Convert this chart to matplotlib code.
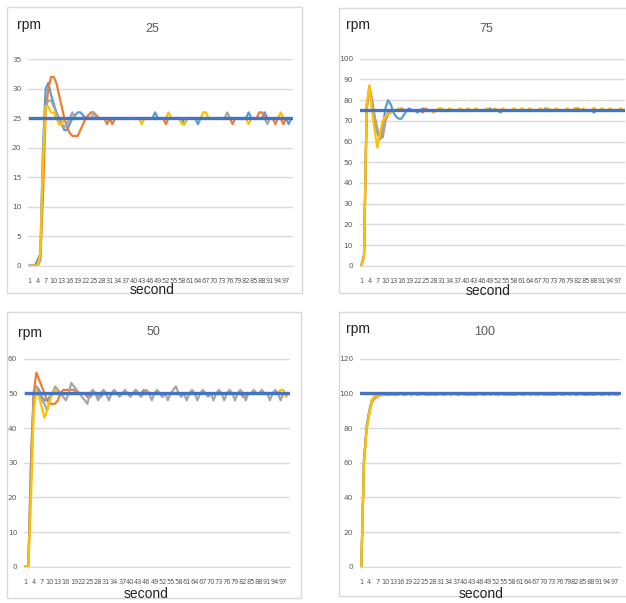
import matplotlib.pyplot as plt
from matplotlib.patches import Rectangle

# categories (seconds)
seconds = list(range(1, 100))
tick_seconds = seconds[::3]

# ---- set point 25 ----
p25_blue = [0, 0, 0, 1, 2, 20, 30, 31, 29, 27.5,
            26, 25, 24, 23, 23, 24, 25, 25.5, 26, 26,
            25.5, 25, 25, 25, 25, 25, 25, 25, 25, 25,
            25, 25, 25, 25, 25, 25, 25, 25, 25, 25,
            25, 25, 25, 25, 25, 25, 25, 26, 25, 25,
            25, 25, 25, 25, 25, 25, 25, 25, 24, 25,
            25, 25, 25, 24, 25, 25, 25, 25, 25, 25,
            25, 25, 25, 25, 25, 25, 25, 25, 25, 25,
            25, 25, 26, 25, 25, 25, 25, 25, 26, 25,
            25, 25, 25, 25, 25, 25, 25, 24, 25]
p25_orange = [0, 0, 0, 0, 1, 12, 26, 30, 32, 32,
              31, 29, 27, 25, 23.5, 22.5, 22, 22, 22, 23,
              24, 25, 25.5, 26, 26, 25.5, 25, 25, 25, 24,
              25, 24, 25, 25, 25, 25, 25, 25, 25, 25,
              25, 25, 25, 25, 25, 25, 25, 25, 25, 25,
              25, 24, 25, 25, 25, 25, 25, 25, 25, 25,
              25, 25, 25, 25, 25, 25, 25, 25, 25, 25,
              25, 25, 25, 25, 25, 25, 24, 25, 25, 25,
              25, 25, 25, 25, 25, 25, 26, 26, 25, 25,
              25, 25, 24, 25, 25, 24, 25, 25, 25]
p25_gray = [0, 0, 0, 0, 1, 18, 27, 28, 28, 27,
            26, 25, 24, 23.5, 24, 25, 26, 25, 25, 25,
            25, 25, 25, 25, 26, 25, 25, 25, 25, 25,
            25, 25, 25, 25, 25, 25, 25, 25, 25, 25,
            25, 25, 25, 25, 25, 25, 25, 25, 25, 25,
            25, 25, 25, 25, 25, 25, 25, 25, 25, 25,
            25, 25, 25, 25, 25, 25, 25, 25, 25, 25,
            25, 25, 25, 25, 26, 25, 25, 25, 25, 25,
            25, 25, 25, 25, 25, 25, 25, 25, 25, 24,
            25, 25, 25, 25, 25, 25, 25, 25, 25]
p25_yellow = [0, 0, 0, 0, 2, 18, 27, 27, 26, 26,
              25, 24, 24, 25, 25, 25, 25, 25, 25, 25,
              25, 25, 25, 25, 25, 25, 25, 25, 25, 25,
              25, 25, 25, 25, 25, 25, 25, 25, 25, 25,
              25, 25, 24, 25, 25, 25, 25, 25, 25, 25,
              25, 25, 26, 25, 25, 25, 25, 24, 24, 25,
              25, 25, 25, 25, 25, 26, 26, 25, 25, 25,
              25, 25, 25, 25, 25, 25, 25, 25, 25, 25,
              25, 25, 24, 25, 25, 25, 25, 25, 25, 25,
              25, 25, 25, 25, 26, 25, 25, 25, 25]

# ---- set point 75 ----
p75_blue = [0, 5, 78, 85, 77, 70, 64, 61, 66, 76,
            80, 78, 74, 72, 71, 71, 73, 75, 76, 75,
            75, 74, 75, 76, 75, 75, 75, 75, 75, 75,
            75, 75, 75, 75, 75, 75, 75, 75, 75, 75,
            75, 75, 75, 75, 75, 75, 75, 75, 76, 75,
            75, 75, 74, 75, 75, 75, 75, 75, 75, 75,
            75, 75, 75, 75, 75, 75, 75, 75, 75, 76,
            75, 75, 75, 75, 75, 75, 75, 75, 75, 75,
            75, 75, 75, 75, 75, 75, 75, 74, 75, 75,
            75, 75, 75, 75, 75, 75, 75, 75, 75]
p75_orange = [0, 5, 75, 87, 80, 72, 66, 62, 62, 70,
              73, 74, 75, 75, 75, 76, 75, 75, 75, 75,
              75, 75, 75, 74, 76, 75, 75, 75, 75, 75,
              75, 75, 75, 75, 75, 75, 75, 75, 75, 75,
              75, 75, 75, 75, 75, 75, 75, 75, 75, 75,
              75, 75, 75, 75, 75, 75, 75, 75, 75, 75,
              75, 75, 75, 75, 75, 75, 75, 75, 75, 75,
              75, 75, 75, 75, 75, 75, 75, 75, 75, 75,
              76, 76, 75, 75, 75, 75, 75, 76, 75, 75,
              75, 75, 75, 75, 75, 75, 75, 75, 75]
p75_gray = [0, 5, 76, 86, 79, 71, 65, 62, 63, 71,
            74, 75, 75, 75, 75, 75, 75, 75, 75, 75,
            75, 75, 75, 75, 75, 75, 75, 75, 75, 75,
            75, 75, 75, 75, 75, 75, 75, 75, 75, 75,
            75, 75, 75, 75, 75, 75, 75, 75, 75, 75,
            75, 75, 75, 75, 75, 75, 75, 75, 75, 75,
            75, 75, 75, 75, 75, 75, 75, 75, 75, 75,
            75, 75, 75, 75, 75, 75, 75, 75, 75, 75,
            75, 75, 75, 75, 75, 75, 75, 75, 75, 75,
            75, 75, 75, 75, 75, 75, 75, 75, 75]
p75_yellow = [0, 4, 78, 87, 75, 65, 57, 64, 70, 72,
              73, 74, 75, 75, 76, 75, 75, 75, 75, 75,
              75, 75, 75, 75, 75, 75, 75, 74, 75, 76,
              76, 75, 75, 76, 75, 75, 75, 76, 75, 75,
              76, 75, 75, 76, 75, 75, 75, 76, 75, 75,
              76, 75, 75, 76, 75, 75, 75, 76, 75, 75,
              76, 75, 75, 76, 75, 75, 75, 76, 75, 75,
              76, 75, 75, 76, 75, 75, 75, 76, 75, 75,
              76, 75, 75, 76, 75, 75, 75, 76, 75, 75,
              76, 75, 75, 76, 75, 75, 75, 76, 75]

# ---- set point 50 ----
p50_blue = [0, 0, 30, 50, 52, 51, 49, 48, 48, 49,
            50, 50, 50, 50, 50, 50, 50, 50, 50, 50,
            50, 50, 50, 50, 49, 50, 50, 49, 49, 50,
            50, 50, 50, 50, 50, 50, 50, 50, 50, 50,
            50, 51, 50, 50, 50, 50, 50, 50, 50, 50,
            50, 50, 50, 50, 50, 50, 50, 50, 50, 50,
            50, 50, 50, 50, 50, 50, 50, 50, 50, 50,
            50, 50, 50, 50, 50, 50, 50, 50, 50, 50,
            50, 50, 50, 50, 50, 50, 50, 50, 50, 50,
            50, 50, 50, 50, 50, 50, 50, 50, 50]
p50_orange = [0, 0, 30, 50, 56, 54, 52, 50, 48, 47,
              47, 47, 48, 50, 51, 51, 51, 51, 51, 50,
              50, 50, 50, 49, 49, 50, 50, 50, 50, 50,
              50, 50, 50, 50, 50, 50, 50, 50, 50, 50,
              50, 50, 50, 50, 51, 50, 50, 50, 50, 50,
              50, 49, 50, 50, 50, 50, 50, 50, 50, 50,
              50, 50, 50, 50, 50, 50, 50, 50, 50, 50,
              50, 50, 50, 50, 50, 50, 50, 50, 50, 50,
              50, 49, 49, 50, 50, 50, 50, 50, 50, 50,
              50, 50, 50, 50, 50, 50, 50, 50, 50]
p50_gray = [0, 0, 25, 48, 52, 50, 48, 47, 45, 48,
            50, 52, 51, 50, 49, 48, 50, 53, 52, 51,
            50, 49, 48, 47, 50, 51, 50, 48, 50, 51,
            50, 48, 50, 51, 50, 49, 50, 51, 50, 49,
            50, 51, 50, 49, 50, 51, 50, 48, 50, 51,
            50, 49, 50, 48, 50, 51, 52, 50, 49, 50,
            48, 50, 51, 50, 48, 50, 51, 50, 49, 50,
            48, 50, 51, 50, 48, 50, 51, 50, 48, 50,
            51, 50, 48, 50, 50, 51, 50, 50, 51, 50,
            50, 48, 50, 51, 50, 48, 50, 50, 50]
p50_yellow = [0, 0, 20, 45, 51, 49, 46, 43, 45, 48,
              50, 51, 50, 50, 50, 50, 50, 50, 50, 50,
              50, 50, 50, 50, 50, 50, 50, 50, 50, 50,
              50, 50, 50, 50, 50, 50, 50, 50, 50, 50,
              50, 50, 50, 50, 50, 50, 50, 50, 50, 50,
              50, 50, 50, 50, 50, 50, 50, 50, 50, 50,
              50, 50, 50, 50, 50, 50, 50, 50, 50, 50,
              50, 50, 50, 50, 50, 50, 50, 50, 50, 50,
              50, 50, 50, 50, 50, 50, 50, 50, 50, 50,
              50, 50, 50, 50, 50, 51, 51, 49, 50]

# ---- set point 100 ----
p100_blue = [0, 62, 81, 90, 96, 98, 99, 99, 100, 100,
             100, 100, 100, 100, 100, 100, 100, 100, 100, 100,
             100, 100, 100, 100, 100, 100, 100, 100, 100, 100,
             100, 100, 100, 100, 100, 100, 100, 100, 100, 100,
             100, 100, 100, 100, 100, 100, 100, 100, 100, 100,
             100, 100, 100, 100, 100, 100, 100, 100, 100, 100,
             100, 100, 100, 100, 100, 100, 100, 100, 100, 100,
             100, 100, 100, 100, 100, 100, 100, 100, 100, 100,
             100, 100, 100, 100, 100, 100, 100, 100, 100, 100,
             100, 100, 100, 100, 100, 100, 100, 100, 100]
p100_orange = [0, 60, 80, 88, 95, 97, 98, 99, 99, 100,
               99, 100, 100, 99, 100, 100, 99, 100, 100, 99,
               100, 100, 99, 100, 100, 99, 100, 100, 99, 100,
               100, 99, 100, 100, 99, 100, 100, 99, 100, 100,
               99, 100, 100, 99, 100, 100, 99, 100, 100, 99,
               100, 100, 99, 100, 100, 99, 100, 100, 99, 100,
               100, 99, 100, 100, 99, 100, 100, 99, 100, 100,
               99, 100, 100, 99, 100, 100, 99, 100, 100, 99,
               100, 100, 99, 100, 100, 99, 100, 100, 99, 100,
               100, 99, 100, 100, 99, 100, 100, 99, 100]
p100_gray = [0, 61, 80, 89, 96, 98, 99, 99, 99, 100,
             100, 100, 100, 100, 100, 100, 100, 100, 100, 100,
             100, 100, 100, 100, 100, 100, 100, 100, 100, 100,
             100, 100, 100, 100, 100, 100, 100, 100, 100, 100,
             100, 100, 100, 100, 100, 100, 100, 100, 100, 100,
             100, 100, 100, 100, 100, 100, 100, 100, 100, 100,
             100, 100, 100, 100, 100, 100, 100, 100, 100, 100,
             100, 100, 100, 100, 100, 100, 100, 100, 100, 100,
             100, 100, 100, 100, 100, 100, 100, 100, 100, 100,
             100, 100, 100, 100, 100, 100, 100, 100, 100]
p100_yellow = [0, 58, 79, 88, 96, 98, 98.5, 99, 99, 99,
               100, 99, 99, 100, 99, 100, 99, 99, 100, 99,
               100, 99, 99, 100, 99, 100, 99, 99, 100, 99,
               100, 99, 99, 100, 99, 100, 99, 99, 100, 99,
               100, 99, 99, 100, 99, 100, 99, 99, 100, 99,
               100, 99, 99, 100, 99, 100, 99, 99, 100, 99,
               100, 99, 99, 100, 99, 100, 99, 99, 100, 99,
               100, 99, 99, 100, 99, 100, 99, 99, 100, 99,
               100, 99, 99, 100, 99, 100, 99, 99, 100, 99,
               100, 99, 99, 100, 99, 100, 99, 99, 100]

titles = ['25', '75', '50', '100']
setpoints = [25, 75, 50, 100]
y_max = [35, 100, 60, 120]
y_step = [5, 10, 10, 20]
responses = [
    [p25_blue, p25_orange, p25_gray, p25_yellow],
    [p75_blue, p75_orange, p75_gray, p75_yellow],
    [p50_blue, p50_orange, p50_gray, p50_yellow],
    [p100_blue, p100_orange, p100_gray, p100_yellow],
]
colors = ['#5B9BD5', '#ED7D31', '#A5A5A5', '#FFC000']
sp_color = '#4472C4'

W, H = 626, 603

# pixel boxes measured on the reference: plot area, chart frame, label spots
plot_px = [(28.3, 59.3, 292.7, 265.7), (360, 58.7, 624.7, 265.7),
           (24.3, 358.7, 290, 566.7), (360, 358.7, 621.3, 566.7)]
frame_px = [(7.3, 7.3, 301.7, 293.3), (338.7, 8.3, 630, 293),
            (6.7, 311.7, 301, 597.7), (338.7, 311.7, 630, 596)]
rpm_px = [(17, 25), (346, 25), (18, 333), (346, 329)]
title_px = [(152, 29), (486, 29), (153, 332), (485, 332)]
second_px = [(152, 290), (488, 291), (146, 594), (481, 594)]

narrow = ['Liberation Sans Narrow', 'DejaVu Sans']
plain = ['Liberation Sans', 'DejaVu Sans']

fig = plt.figure(figsize=(W / 100, H / 100), dpi=100)
fig.patch.set_facecolor('white')

for k in range(4):
    x0, y0, x1, y1 = frame_px[k]
    fig.patches.append(Rectangle((x0 / W, 1 - y1 / H), (x1 - x0) / W, (y1 - y0) / H,
                                 transform=fig.transFigure, fill=False,
                                 edgecolor='#D9D9D9', linewidth=1.0))

    l, t, r, b = plot_px[k]
    ax = fig.add_axes([l / W, 1 - b / H, (r - l) / W, (b - t) / H])
    for color, series in zip(colors, responses[k]):
        ax.plot(seconds, series, color=color, linewidth=1.6, solid_joinstyle='round')
    ax.plot(seconds, [setpoints[k]] * len(seconds), color=sp_color, linewidth=2.4)

    ax.set_xlim(0.5, len(seconds) + 0.5)
    ax.set_ylim(0, y_max[k])
    ax.set_yticks(range(0, y_max[k] + 1, y_step[k]))
    ax.set_xticks(tick_seconds)
    ax.set_xticklabels([str(s) for s in tick_seconds], family=narrow, fontsize=4.8,
                       color='#595959')
    ax.set_yticklabels([str(v) for v in range(0, y_max[k] + 1, y_step[k])],
                       family=narrow, fontsize=5.3, color='#595959')
    ax.tick_params(axis='both', length=0)
    ax.tick_params(axis='x', pad=9)
    ax.tick_params(axis='y', pad=5)
    ax.grid(axis='y', color='#D9D9D9', linewidth=1.0)
    ax.set_axisbelow(True)
    for side in ['left', 'right', 'top']:
        ax.spines[side].set_visible(False)
    ax.spines['bottom'].set_color('#D9D9D9')

    fig.text(rpm_px[k][0] / W, 1 - rpm_px[k][1] / H, 'rpm', family=plain, fontsize=10,
             color='#222222', ha='left', va='center')
    fig.text(title_px[k][0] / W, 1 - title_px[k][1] / H, titles[k], family=plain,
             fontsize=9, color='#595959', ha='center', va='center')
    fig.text(second_px[k][0] / W, 1 - second_px[k][1] / H, 'second', family=plain,
             fontsize=10, color='#222222', ha='center', va='center')

fig.savefig('out.png', dpi=100)
